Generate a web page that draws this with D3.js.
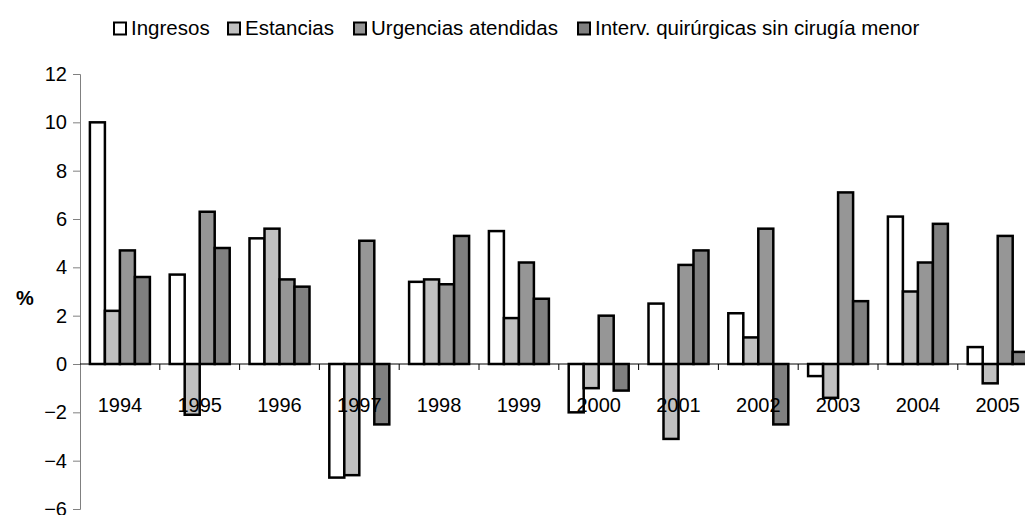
<!DOCTYPE html>
<html>
<head>
<meta charset="utf-8">
<script src="https://cdn.jsdelivr.net/npm/d3@7/dist/d3.min.js"></script>
<style>
  body { margin: 0; background: #fff; }
  svg { display: block; font-family: "Liberation Sans", Arial, sans-serif; }
</style>
</head>
<body>
<svg id="chart" width="1025" height="515"></svg>
<script>
// values (% change per year)
var years = ["1994","1995","1996","1997","1998","1999","2000","2001","2002","2003","2004","2005"];
var seriesNames = ["Ingresos","Estancias","Urgencias atendidas","Interv. quirúrgicas sin cirugía menor"];
var ingresos  = [10.0, 3.7, 5.2, -4.7, 3.4, 5.5, -2.0, 2.5, 2.1, -0.5, 6.1, 0.7];
var estancias = [2.2, -2.1, 5.6, -4.6, 3.5, 1.9, -1.0, -3.1, 1.1, -1.4, 3.0, -0.8];
var urgencias = [4.7, 6.3, 3.5, 5.1, 3.3, 4.2, 2.0, 4.1, 5.6, 7.1, 4.2, 5.3];
var interv    = [3.6, 4.8, 3.2, -2.5, 5.3, 2.7, -1.1, 4.7, -2.5, 2.6, 5.8, 0.5];
var yTicks = [-6, -4, -2, 0, 2, 4, 6, 8, 10, 12];

var colors = ["#ffffff", "#c0c0c0", "#969696", "#808080"];
var allSeries = [ingresos, estancias, urgencias, interv];

var svg = d3.select("#chart");

var y = d3.scaleLinear().domain([-6, 12]).range([509, 74]);
var x0 = d3.scaleBand().domain(years).range([80, 1037.6]).padding(0);
var x1 = d3.scaleBand().domain(d3.range(4)).range([9.9, 69.9]).padding(0);

// y axis
var yAxis = svg.append("g")
    .attr("transform", "translate(80,0)")
    .call(d3.axisLeft(y).tickValues(yTicks).tickSize(7).tickPadding(6));
yAxis.select(".domain").attr("stroke", "#808080");
yAxis.selectAll(".tick line").attr("stroke", "#808080");
yAxis.selectAll("text").attr("font-size", "20px").attr("fill", "#000");

// bars
var data = [];
years.forEach(function(yr, i){
    allSeries.forEach(function(s, j){
        data.push({year: yr, k: j, v: s[i]});
    });
});

svg.append("g").selectAll("rect")
    .data(data)
    .enter().append("rect")
    .attr("x", function(d){ return x0(d.year) + x1(d.k); })
    .attr("width", x1.bandwidth())
    .attr("y", function(d){ return y(Math.max(0, d.v)); })
    .attr("height", function(d){ return Math.abs(y(d.v) - y(0)); })
    .attr("fill", function(d){ return colors[d.k]; })
    .attr("stroke", "#000")
    .attr("stroke-width", 2.5);

// x axis at zero with category boundary ticks
var xg = svg.append("g").attr("transform", "translate(0," + y(0) + ")");
xg.append("line")
    .attr("x1", 80).attr("x2", 1037.6)
    .attr("stroke", "#000").attr("stroke-width", 1);
xg.selectAll("line.tk")
    .data(years)
    .enter().append("line")
    .attr("class", "tk")
    .attr("x1", function(d){ return x0(d) + x0.bandwidth(); })
    .attr("x2", function(d){ return x0(d) + x0.bandwidth(); })
    .attr("y1", 0).attr("y2", 6)
    .attr("stroke", "#000");
svg.append("g").selectAll("text")
    .data(years)
    .enter().append("text")
    .attr("x", function(d){ return x0(d) + x0.bandwidth() / 2; })
    .attr("y", 411.5)
    .attr("text-anchor", "middle")
    .attr("font-size", "20px")
    .text(function(d){ return d; });

// y label
svg.append("text")
    .attr("x", 25).attr("y", 305)
    .attr("text-anchor", "middle")
    .attr("font-size", "20px")
    .attr("font-weight", "bold")
    .text("%");

// legend
var legendX = [113, 227, 353, 577];
var lg = svg.append("g").selectAll("g")
    .data(seriesNames)
    .enter().append("g")
    .attr("transform", function(d, i){ return "translate(" + legendX[i] + ",0)"; });
lg.append("rect")
    .attr("x", 1).attr("y", 22.5)
    .attr("width", 12).attr("height", 12)
    .attr("fill", function(d, i){ return colors[i]; })
    .attr("stroke", "#000").attr("stroke-width", 2);
lg.append("text")
    .attr("x", 18).attr("y", 35)
    .attr("font-size", "20.5px")
    .text(function(d){ return d; });
</script>
</body>
</html>
